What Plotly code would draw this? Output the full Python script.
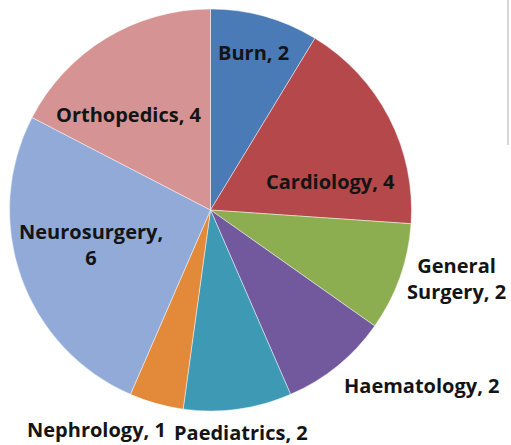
import plotly.graph_objects as go

categories = ["Burn", "Cardiology", "General Surgery", "Haematology",
              "Paediatrics", "Nephrology", "Neurosurgery", "Orthopedics"]
values = [2, 4, 2, 2, 2, 1, 6, 4]
colors = ["#4A7BB6", "#B4484A", "#8CAE50", "#72599E",
          "#3E9AB4", "#E2893A", "#91AAD8", "#D59393"]

# label text layout (line breaks) and pixel positions of label centres
label_text = {
    "General Surgery": "General<br>Surgery, {v}",
    "Neurosurgery": "Neurosurgery,<br>{v}",
}
label_pos = {
    "Burn": (253, 52),
    "Cardiology": (330, 181),
    "General Surgery": (456, 278),
    "Haematology": (421, 385),
    "Paediatrics": (241, 432),
    "Nephrology": (96, 429),
    "Neurosurgery": (91, 244),
    "Orthopedics": (129, 115),
}

W, H = 511, 445

fig = go.Figure(go.Pie(
    labels=categories,
    values=values,
    sort=False,
    direction="clockwise",
    rotation=0,
    marker=dict(colors=colors, line=dict(color="rgba(255,255,255,0.45)", width=1)),
    textinfo="none",
    hoverinfo="label+value",
    showlegend=False,
    domain=dict(x=[9 / W, 412 / W], y=[1 - 411 / H, 1 - 9 / H]),
))

for cat, v in zip(categories, values):
    txt = label_text.get(cat, cat + ", {v}").format(v=v)
    px, py = label_pos[cat]
    fig.add_annotation(
        x=px / W, y=1 - py / H, xref="paper", yref="paper",
        text=txt, showarrow=False, xanchor="center", yanchor="middle",
        align="center",
        font=dict(family="Open Sans", size=20, color="#141414", weight="bold"),
    )

fig.add_shape(type="line", xref="paper", yref="paper",
              x0=508 / W, x1=508 / W, y0=1, y1=1 - 145 / H,
              line=dict(color="#D8D8D8", width=2))

fig.update_layout(
    width=W, height=H,
    margin=dict(l=0, r=0, t=0, b=0),
    paper_bgcolor="white",
    plot_bgcolor="white",
)

fig.write_html(
    "out.html",
    config={"displayModeBar": False},
    post_script="document.body.style.margin='0';document.body.style.overflow='hidden';",
)
